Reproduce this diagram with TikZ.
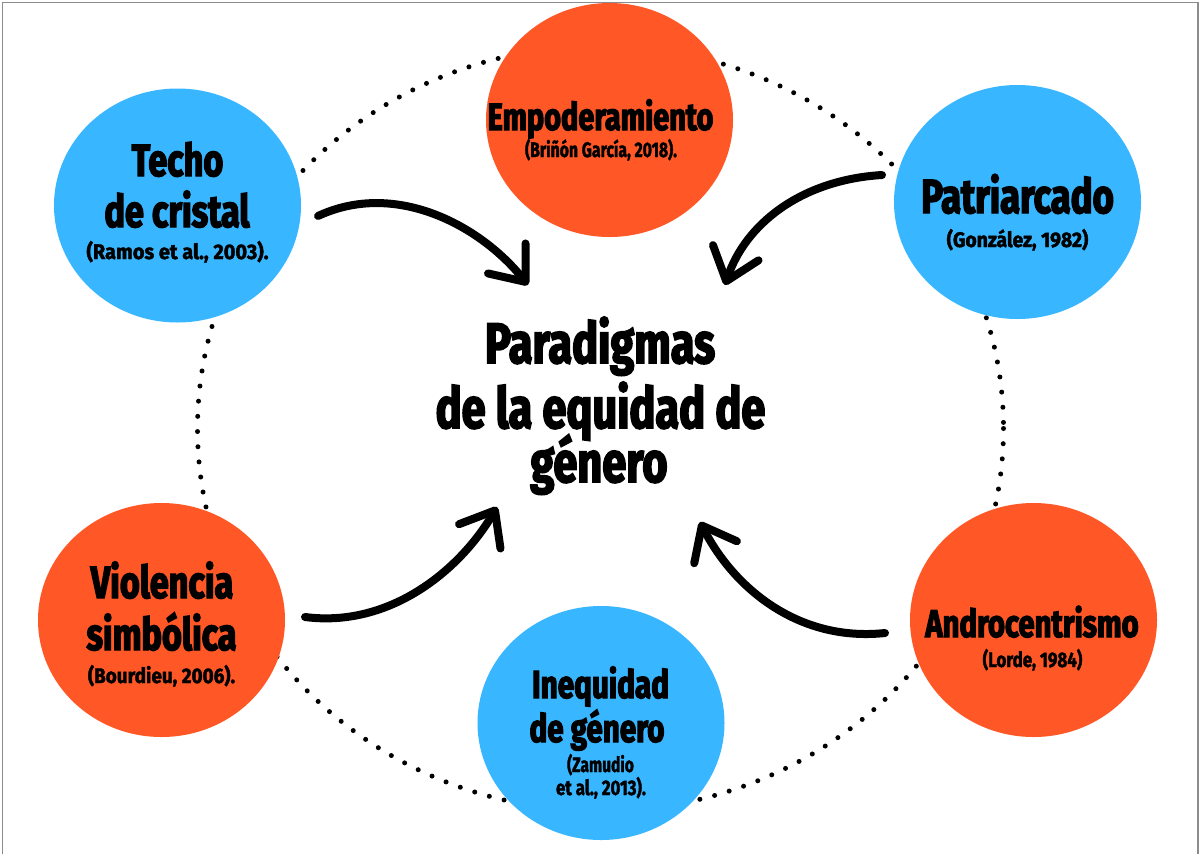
\documentclass[tikz,border=0pt]{standalone}
\usepackage{fontspec}
\usepackage{graphicx}
\newfontfamily\hf{Fira Sans}[FakeStretch=0.76, FakeBold=3]
\newfontfamily\hfc{Fira Sans}[FakeStretch=0.95, FakeBold=2]
\usetikzlibrary{shapes.geometric,arrows.meta}
\definecolor{cblue}{RGB}{56,182,255}
\definecolor{corange}{RGB}{255,87,38}
\definecolor{frame}{RGB}{140,140,140}
\tikzset{
  bubble/.style={ellipse, minimum width=247pt, minimum height=234pt, inner sep=0pt, draw=none},
  bluebubble/.style={bubble, fill=cblue},
  orangebubble/.style={bubble, fill=corange},
  txt/.style={anchor=base, inner sep=0pt, text=black},
  big/.style={txt, font=\hf\bfseries\fontsize{#1}{#1}\selectfont},
  cite/.style={txt, font=\hfc\bfseries\fontsize{21}{21}\selectfont},
  brush/.style={line width=8pt, line cap=round, line join=round,
    -{Straight Barb[length=30pt, width=48pt, round]}},
  loop/.style={line width=5pt, line cap=round, dash pattern=on 0pt off 15.2pt}
}
\begin{document}
\begin{tikzpicture}[x=1pt,y=-1pt]
\useasboundingbox (0,0) rectangle (1199,854);
\fill[white] (0,0) rectangle (1199,854);
\draw[frame, line width=1.5pt] (2.5,854) -- (2.5,2.5) -- (1197.8,2.5) -- (1197.8,854);

% dotted loop
\draw[loop] (600.5,428.5) ellipse [x radius=403, y radius=382.5];

% bubbles
\node[bluebubble]   (techo)  at (177.5,205.5) {};
\node[orangebubble] (empo)   at (609.5,120)   {};
\node[bluebubble]   (patri)  at (1017.5,202)  {};
\node[orangebubble] (viol)   at (161.5,620)   {};
\node[bluebubble]   (ineq)   at (601,723)     {};
\node[orangebubble] (andro)  at (1033.5,620)  {};

% texts
\node[big=45] (techo1) at (177.5,176) {Techo};
\node[big=45] (techo2) at (177,227) {de cristal};
\node[cite]   (techo3) at (177.5,259) {(Ramos et al., 2003).};

\node[big=38] (empo1) at (600.5,130) {Empoderamiento};
\node[cite]   (empo2) at (601,157) {\scalebox{0.79}[1]{(Briñón García, 2018).}};

\node[big=48] (patri1) at (1017.5,213) {Patriarcado};
\node[cite]   (patri2) at (1017.5,247) {\scalebox{0.97}[1]{(González, 1982)}};

\node[big=45] (viol1) at (162,598) {Violencia};
\node[big=45] (viol2) at (161.5,650) {simbólica};
\node[cite]   (viol3) at (161.5,683) {\scalebox{0.95}[1]{(Bourdieu, 2006).}};

\node[big=39] (ineq1) at (600.5,698) {Inequidad};
\node[big=39] (ineq2) at (597,742) {de género};
\node[cite]   (ineq3) at (600.5,772) {\scalebox{0.78}[1]{(Zamudio}};
\node[cite]   (ineq4) at (601,795) {\scalebox{0.84}[1]{et al., 2013).}};

\node[big=38.5] (andro1) at (1032,637) {Androcentrismo};
\node[cite]   (andro2) at (1032.5,667) {\scalebox{0.85}[1]{(Lorde, 1984)}};

\node[big=57] (c1) at (600,363) {Paradigmas};
\node[big=57] (c2) at (600.5,428) {de la equidad de};
\node[big=57] (c3) at (599,482) {género};

% arrows
\coordinate (a1s) at (318,216);
\coordinate (a1e) at (528,285);
\coordinate (a2s) at (882,175);
\coordinate (a2e) at (725,285);
\coordinate (a3s) at (305,617);
\coordinate (a3e) at (497,507);
\coordinate (a4s) at (885,633);
\coordinate (a4e) at (700,522);
\draw[brush] (a1s) .. controls (395,180) and (480,225) .. (a1e);
\draw[brush] (a2s) .. controls (800,180) and (745,225) .. (a2e);
\draw[brush] (a3s) .. controls (390,628) and (460,570) .. (a3e);
\draw[brush] (a4s) .. controls (800,642) and (735,590) .. (a4e);
\end{tikzpicture}
\end{document}
